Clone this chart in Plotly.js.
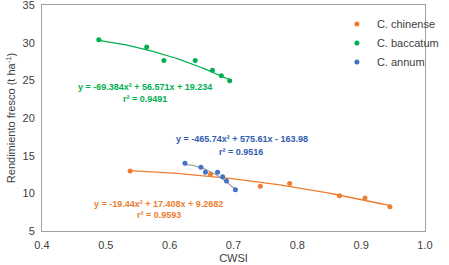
<!DOCTYPE html>
<html>
<head>
<meta charset="utf-8">
<script src="https://cdn.plot.ly/plotly-3.0.1.min.js"></script>
<style>html,body{margin:0;padding:0;background:#fff;}#chart{width:449px;height:265px;}</style>
</head>
<body>
<div id="chart"></div>
<script>
// Data
const seriesNames = ["C. chinense", "C. baccatum", "C. annum"];
const chinenseX = [0.538, 0.664, 0.742, 0.788, 0.866, 0.906, 0.945];
const chinenseY = [12.97, 12.53, 10.94, 11.29, 9.69, 9.38, 8.23];
const baccatumX = [0.489, 0.564, 0.591, 0.640, 0.667, 0.681, 0.694];
const baccatumY = [30.38, 29.44, 27.62, 27.62, 26.34, 25.62, 24.96];
const annumX = [0.624, 0.649, 0.656, 0.675, 0.683, 0.689, 0.703];
const annumY = [13.99, 13.46, 12.80, 12.80, 12.21, 11.64, 10.49];
// Trendline coefficients (a, b, c) as printed on the chart
const chinenseFit = [-19.44, 17.408, 9.2682];
const baccatumFit = [-69.384, 56.571, 19.234];
const annumFit = [-465.74, 575.61, -163.98];
const chinenseEq = ["y = -19.44x² + 17.408x + 9.2682", "r² = 0.9593"];
const baccatumEq = ["y = -69.384x² + 56.571x + 19.234", "r² = 0.9491"];
const annumEq = ["y = -465.74x² + 575.61x - 163.98", "r² = 0.9516"];

const colors = ["#ED7D31", "#00B050", "#4472C4"];
const trendColors = ["#ED7D31", "#00B050", "#A5A5A5"];
const eqColors = ["#ED7D31", "#00B050", "#2F5DAF"];

function curve(xs, coef) {
  const lo = Math.min(...xs), hi = Math.max(...xs);
  const cx = [], cy = [];
  for (let i = 0; i <= 60; i++) {
    const x = lo + (hi - lo) * i / 60;
    cx.push(x);
    cy.push(coef[0] * x * x + coef[1] * x + coef[2]);
  }
  return {x: cx, y: cy};
}

const sets = [[chinenseX, chinenseY, chinenseFit], [baccatumX, baccatumY, baccatumFit], [annumX, annumY, annumFit]];
const traces = [];
sets.forEach((s, i) => {
  const c = curve(s[0], s[2]);
  traces.push({x: c.x, y: c.y, mode: "lines", line: {color: trendColors[i], width: 1.3}, showlegend: false, hoverinfo: "skip"});
});
sets.forEach((s, i) => {
  traces.push({x: s[0], y: s[1], mode: "markers", name: seriesNames[i], marker: {color: colors[i], size: 5}});
});

const eqFont = (c) => ({family: "Liberation Sans Narrow, Liberation Sans, Arial", size: 9, color: c});
const annotations = [
  {x: 0.562, y: 24.1, text: "<b>" + baccatumEq[0] + "</b>", c: eqColors[1]},
  {x: 0.562, y: 22.5, text: "<b>" + baccatumEq[1] + "</b>", c: eqColors[1]},
  {x: 0.714, y: 17.2, text: "<b>" + annumEq[0] + "</b>", c: eqColors[2]},
  {x: 0.712, y: 15.5, text: "<b>" + annumEq[1] + "</b>", c: eqColors[2]},
  {x: 0.583, y: 8.6, text: "<b>" + chinenseEq[0] + "</b>", c: eqColors[0]},
  {x: 0.583, y: 7.1, text: "<b>" + chinenseEq[1] + "</b>", c: eqColors[0]}
].map(a => ({x: a.x, y: a.y, xref: "x", yref: "y", text: a.text, showarrow: false, font: eqFont(a.c), xanchor: "center", yanchor: "middle"}));

const tickFont = {family: "Liberation Sans, Arial", size: 11, color: "#404040"};
const axisCommon = {
  showgrid: false, zeroline: false, showline: true, linecolor: "#A0A0A0", linewidth: 1, mirror: true,
  ticks: "outside", ticklen: 4, tickcolor: "rgba(0,0,0,0)", tickfont: tickFont,
  automargin: false, ticklabeloverflow: "allow"
};

const layout = {
  width: 449, height: 265,
  margin: {l: 42, r: 8, t: 5, b: 34},
  paper_bgcolor: "#fff", plot_bgcolor: "#fff",
  showlegend: true,
  legend: {x: 0.77, y: 0.98, xanchor: "left", yanchor: "top", bgcolor: "rgba(0,0,0,0)",
    font: {family: "Liberation Sans, Arial", size: 11, color: "#404040"}, itemwidth: 30, tracegroupgap: 0},
  xaxis: Object.assign({}, axisCommon, {range: [0.4, 1.0], dtick: 0.1, tickformat: ".1f",
    title: {text: "CWSI", font: {family: "Liberation Sans, Arial", size: 11, color: "#404040"}, standoff: 4}}),
  yaxis: Object.assign({}, axisCommon, {range: [5, 35], dtick: 5,
    title: {text: "Rendimiento fresco (t ha<sup>-1</sup>)", font: {family: "Liberation Sans, Arial", size: 11, color: "#404040"}, standoff: 4}}),
  annotations: annotations
};

Plotly.newPlot("chart", traces, layout, {staticPlot: true, displayModeBar: false});
</script>
</body>
</html>
